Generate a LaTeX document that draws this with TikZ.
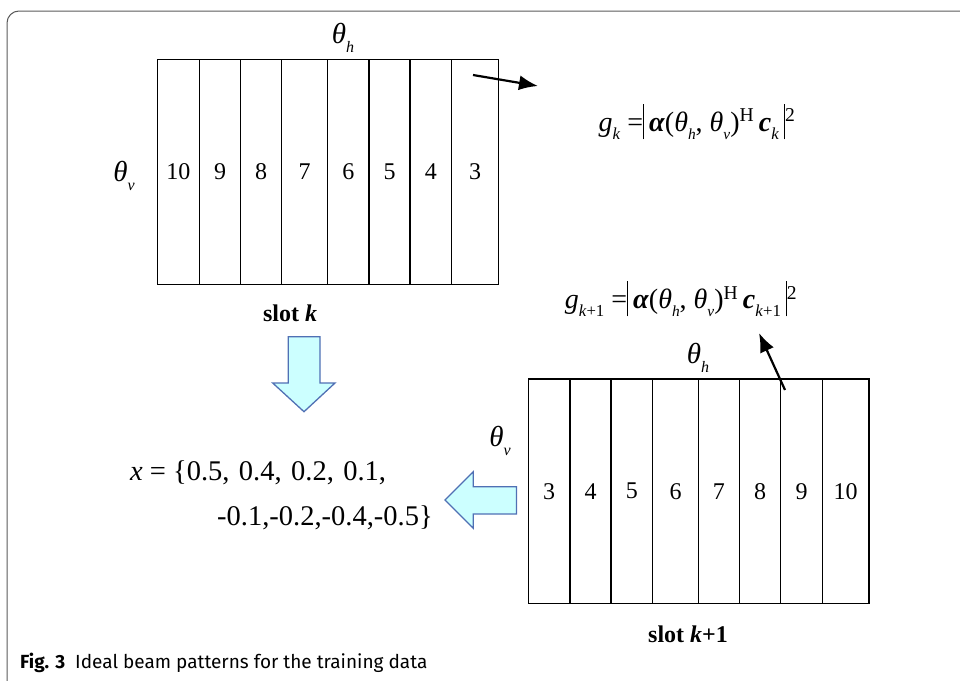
\documentclass[tikz,border=0pt]{standalone}
\usepackage{fontspec}
\setmainfont{Liberation Serif}
\newfontfamily\capfont{Fira Sans}
\usetikzlibrary{arrows.meta}

% symbols used in the gain formulas
\newcommand\bfalpha{\textbf{\textit{α}}}
\newcommand\bfc{\textbf{\textit{c}}}
\newcommand\absline{\rule[-0.3em]{0.045em}{1.25em}}
\newcommand\thsub[1]{\textit{θ}\raisebox{-0.3em}{\fontsize{0.55em}{0.6em}\selectfont\textit{#1}}}
\newcommand\lowsub[1]{\raisebox{-0.3em}{\fontsize{0.6em}{0.65em}\selectfont#1}}
\newcommand\gap{\hspace{0.33em}}

\definecolor{blockfill}{RGB}{204,255,255}
\definecolor{blockline}{RGB}{80,112,180}
\definecolor{framegray}{RGB}{90,90,90}

\begin{document}
\begin{tikzpicture}[x=1pt,y=-1pt,
  cell/.style={draw, line width=1.2pt, inner sep=0pt, outer sep=0pt,
    font=\fontsize{24}{26}\selectfont},
  lbl/.style={inner sep=0pt, font=\fontsize{29}{31}\selectfont},
  formula/.style={inner sep=0pt, font=\fontsize{28}{30}\selectfont},
  vecline/.style={inner sep=0pt, anchor=west, font=\fontsize{28.5}{30}\selectfont},
  slotlbl/.style={inner sep=0pt, font=\fontsize{24}{26}\selectfont\bfseries},
  ptr/.style={line width=2.2pt, -{Latex[length=19pt,width=15pt]}},
  block/.style={draw=blockline, line width=1.3pt, fill=blockfill, line join=miter}]

\useasboundingbox (0,0) rectangle (960,680);

% outer frame of the figure
\draw[framegray, line width=1pt, rounded corners=12pt] (7,700) -- (7,11) -- (980,11);

% beam pattern at slot k (height 225, centre 171.8)
\foreach \l/\r/\t/\n in {157.3/199.3/10/a1, 199.3/240.7/9/a2, 240.7/281.7/8/a3,
    281.7/327.7/7/a4, 327.7/369/6/a5, 369/410/5/a6, 410/451.7/4/a7, 451.7/498.3/3/a8}
  \node[cell, minimum width={(\r-\l)*1pt}, minimum height=225pt]
    (\n) at ({(\l+\r)/2},171.8) {\t};

% beam pattern at slot k+1 (height 224.3, centre 491.2)
\foreach \l/\r/\t/\n in {528.3/570/3/b1, 570/611/4/b2, 611/652.7/5/b3,
    652.7/698.3/6/b4, 698.3/739.3/7/b5, 739.3/780.7/8/b6, 780.7/822.3/9/b7, 822.3/869/10/b8}
  \node[cell, minimum width={(\r-\l)*1pt}, minimum height=224.3pt]
    (\n) at ({(\l+\r)/2},491.2) {\t};

% axis labels
\node[lbl] (thA) at (343,38) {\thsub{h}};
\node[lbl] (tvA) at (124,176) {\thsub{v}};
\node[lbl] (thB) at (698,358) {\thsub{h}};
\node[lbl] (tvB) at (500,441) {\thsub{v}};

% slot labels
\node[slotlbl] (slotA) at (290,313) {slot \textit{k}};
\node[slotlbl] (slotB) at (688,634) {slot \textit{k}+1};

% gain formulas
\node[formula] (gA) at (697,122)
  {\textit{g}\lowsub{\textit{k}} =\absline\,\bfalpha(\thsub{h}, \thsub{v})\textsuperscript{H}\,\bfc\lowsub{\textit{k}}\,\absline\textsuperscript{2}};
\node[formula] (gB) at (681,299)
  {\textit{g}\lowsub{\textit{k}+1} =\absline\,\bfalpha(\thsub{h}, \thsub{v})\textsuperscript{H}\,\bfc\lowsub{\textit{k}+1}\,\absline\textsuperscript{2}};

% pointers from the patterns to the formulas
\coordinate (pA) at (473,75);
\coordinate (pAend) at (538,86);
\draw[ptr] (pA) -- (pAend);
\coordinate (pB) at (785,390);
\coordinate (pBend) at (759,333);
\draw[ptr] (pB) -- (pBend);

% training target vector
\node[vecline] (xA) at (130,473)
  {\textit{x} = \{0.5,\gap0.4,\gap0.2,\gap0.1,};
\node[vecline] (xB) at (217,518)
  {-0.1,-0.2,-0.4,-0.5\}};

% block arrows
\draw[block] (288.3,336.7) -- (320,336.7) -- (320,383) -- (335,383) -- (304,411.7)
  -- (272.7,383) -- (288.3,383) -- cycle;
\draw[block] (516.5,486.7) -- (473.3,486.7) -- (473.3,471.7) -- (445,500)
  -- (473.3,528.3) -- (473.3,514) -- (516.5,514) -- cycle;

% caption
\node[inner sep=0pt, anchor=west] (cap) at (20,663)
  {\capfont\fontsize{19}{21}\selectfont\textbf{Fig. 3}\ \ Ideal beam patterns for the training data};

\end{tikzpicture}
\end{document}
